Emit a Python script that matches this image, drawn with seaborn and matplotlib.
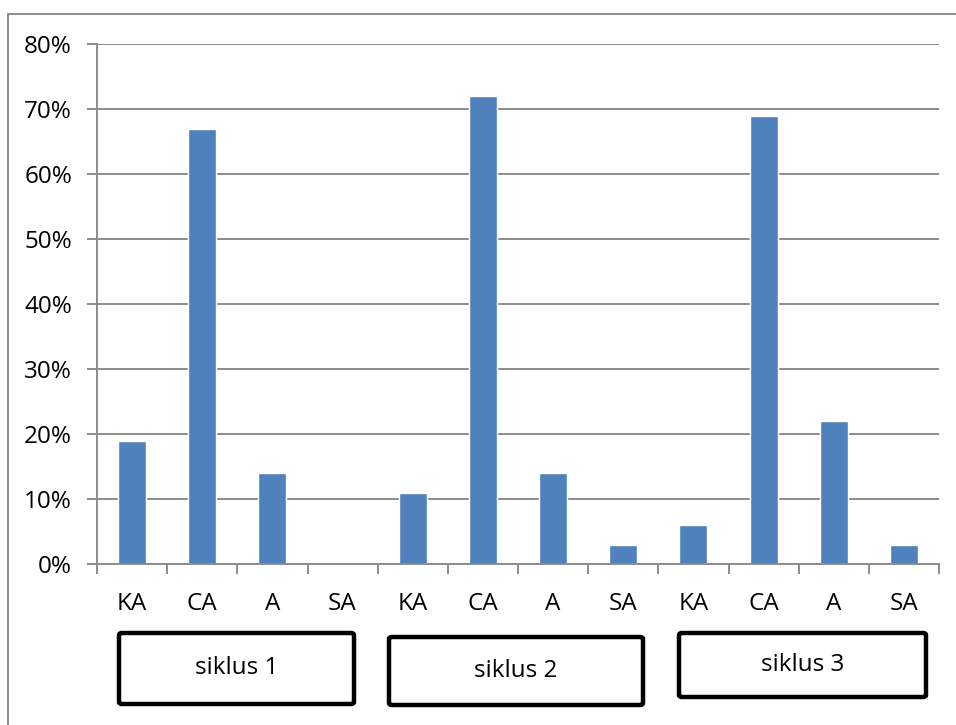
import numpy as np
import pandas as pd
import matplotlib
matplotlib.use("Agg")
import matplotlib.pyplot as plt
from matplotlib.patches import FancyBboxPatch
from matplotlib.lines import Line2D
import seaborn as sns

# Data: percentage of students per category in each cycle
cycles = ["siklus 1", "siklus 2", "siklus 3"]
categories = ["KA", "CA", "A", "SA"]
siklus1 = [19, 67, 14, 0]
siklus2 = [11, 72, 14, 3]
siklus3 = [6, 69, 22, 3]
y_ticks = [0, 10, 20, 30, 40, 50, 60, 70, 80]

values = siklus1 + siklus2 + siklus3
labels = categories * len(cycles)
df = pd.DataFrame({
    "slot": [f"{c}-{k}" for c in cycles for k in categories],
    "label": labels,
    "pct": values,
})

sns.set_theme(style="white")
plt.rcParams["font.family"] = ["Open Sans", "DejaVu Sans"]
plt.rcParams["text.color"] = "black"
plt.rcParams["xtick.labelcolor"] = "black"
plt.rcParams["ytick.labelcolor"] = "black"

FS = 17.5
W, H = 956, 725
fig = plt.figure(figsize=(W / 100, H / 100), dpi=100)
ax = fig.add_axes([97 / W, 1 - 564 / H, (939 - 97) / W, (564 - 44) / H])

sns.barplot(data=df, x="slot", y="pct", order=df["slot"], color="#4F81BD",
            width=0.4, saturation=1, ax=ax, errorbar=None)

grey = "#8c8c8c"
ax.set_ylim(0, 80)
ax.set_xlim(-0.5, len(df) - 0.5)
ax.set_yticks(y_ticks)
ax.set_yticklabels([f"{v}%" for v in y_ticks], fontsize=FS)
ax.yaxis.grid(True, color=grey, linewidth=1.4)
ax.set_axisbelow(True)

# category labels centred under bars, tick marks on the category boundaries
ax.set_xticks(np.arange(len(df)))
ax.set_xticklabels(labels, fontsize=FS)
ax.tick_params(axis="x", length=0, pad=20)
ax.set_xticks(np.arange(-0.5, len(df)), minor=True)
ax.tick_params(axis="x", which="minor", direction="out", length=7,
               width=1.4, color=grey, bottom=True)
ax.tick_params(axis="y", direction="out", length=7, width=1.4, color=grey,
               left=True, pad=11)
ax.set_xlabel("")
ax.set_ylabel("")
for s in ["top", "right"]:
    ax.spines[s].set_visible(False)
for s in ["left", "bottom"]:
    ax.spines[s].set_color(grey)
    ax.spines[s].set_linewidth(1.4)

# outer frame of the chart area
fig.add_artist(Line2D([8 / W, 1.0], [1 - 14 / H] * 2, color=grey, linewidth=1.4,
                      transform=fig.transFigure))
fig.add_artist(Line2D([8 / W] * 2, [0.0, 1 - 14 / H], color=grey, linewidth=1.4,
                      transform=fig.transFigure))

# cycle boxes beneath the category labels (pixel boxes: x0, y0, x1, y1)
boxes = [(119, 633, 354, 704), (389, 637, 643, 705), (679, 633, 926, 697)]
for name, (x0, y0, x1, y1) in zip(cycles, boxes):
    patch = FancyBboxPatch((x0 / W, 1 - y1 / H), (x1 - x0) / W, (y1 - y0) / H,
                           boxstyle="round,pad=0,rounding_size=0.003",
                           transform=fig.transFigure, facecolor="white",
                           edgecolor="black", linewidth=3.2)
    fig.add_artist(patch)
    fig.text((x0 + x1) / 2 / W, 1 - (y0 + y1) / 2 / H, name, ha="center",
             va="center", fontsize=FS)

fig.savefig("out.png", dpi=100)
